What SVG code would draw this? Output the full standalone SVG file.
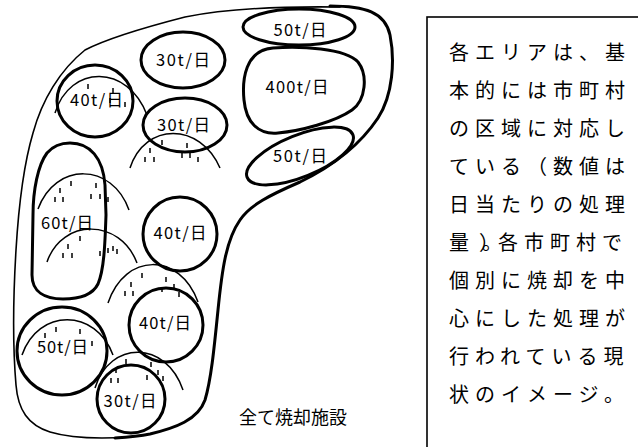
<svg xmlns="http://www.w3.org/2000/svg" width="638" height="447" viewBox="0 0 638 447">
  <style>
    .outline-thin { fill: none; stroke: #000; stroke-width: 1.6; stroke-linecap: round; }
    .outline-thick { fill: none; stroke: #000; stroke-width: 3; stroke-linecap: round; }
    .area { fill: none; stroke: #000; stroke-width: 3; }
    .ridge { fill: none; stroke: #000; stroke-width: 1.5; }
    .tick { fill: none; stroke: #000; stroke-width: 1.5; }
    .lbl { font-family: "Noto Sans CJK JP", "Liberation Sans", sans-serif; font-size: 16.5px; fill: #000; text-anchor: middle; }
    .note { font-family: "Noto Sans CJK JP", sans-serif; font-size: 20px; fill: #000; letter-spacing: 6px; }
    .caption { font-family: "Noto Sans CJK JP", sans-serif; font-size: 18px; fill: #000; }
  </style>

  <!-- outer region boundary -->
  <g id="region">
    <path class="outline-thin" d="M 130,437 C 100,439 70,438 50,432 C 28,425 18,410 16,385 C 13,350 13,300 16,250 C 19,200 25,160 33,133 C 42,100 60,70 85,50 C 110,37 150,26 185,17 C 220,10 270,6 340,7"/>
    <path class="outline-thick" d="M 330,6 C 365,6 385,12 390,35 C 395,60 393,95 378,118 C 362,142 335,165 300,182 C 270,195 250,205 240,220 C 226,240 222,270 218,310 C 214,350 211,380 205,400 C 198,420 175,428 150,434 C 140,436 130,437 115,438"/>
  </g>

  <!-- mountain ridges with rain ticks -->
  <g id="terrain">
    <path class="ridge" d="M 55,113 C 70,64 128,64 147,115"/>
    <path class="ridge" d="M 130,168 C 145,122 200,122 220,168"/>
    <path class="ridge" d="M 38,209 C 55,162 112,162 129,210"/>
    <path class="ridge" d="M 47,262 C 62,218 120,218 137,263"/>
    <path class="ridge" d="M 108,303 C 125,252 180,252 198,302"/>
    <path class="ridge" d="M 22,355 C 38,308 96,308 113,355"/>
    <path class="ridge" d="M 95,388 C 110,340 166,340 183,390"/>
    <path class="tick" d="M88,84v5 M113,88v5 M110,98v5 M125,102v5
      M162,140v5 M187,143v5 M150,148v5 M145,157v5 M154,157v5 M182,153v5 M190,153v5 M198,157v5
      M71,181v5 M96,183v5 M60,188v5 M55,197v5 M63,197v5 M91,194v5 M100,194v5 M108,197v5
      M80,236v5 M68,244v5 M63,253v5 M72,253v5 M100,251v5 M108,248v5 M113,246v5 M117,249v5
      M142,273v5 M131,282v5 M125,291v5 M133,291v5 M166,277v5 M162,287v5 M174,284v5 M179,292v5
      M56,327v5 M80,329v5 M45,333v5 M92,341v5
      M126,359v5 M151,362v5 M116,368v5 M111,378v5 M118,378v5 M147,375v5 M158,370v5 M163,376v5"/>
  </g>

  <!-- processing areas -->
  <g id="area-30-top">
    <ellipse class="area" cx="183" cy="60" rx="42" ry="28"/>
    <text class="lbl" x="183" y="66" textLength="54" lengthAdjust="spacing">30t/日</text>
  </g>
  <g id="area-40-upper">
    <ellipse class="area" cx="95" cy="101" rx="38" ry="36"/>
    <text class="lbl" x="96.5" y="106" textLength="53" lengthAdjust="spacing">40t/日</text>
  </g>
  <g id="area-30-mid">
    <ellipse class="area" cx="185" cy="125" rx="42" ry="27"/>
    <text class="lbl" x="183.5" y="131" textLength="53" lengthAdjust="spacing">30t/日</text>
  </g>
  <g id="area-50-top">
    <ellipse class="area" cx="299" cy="27" rx="56" ry="18"/>
    <text class="lbl" x="300" y="35.5" textLength="53" lengthAdjust="spacing">50t/日</text>
  </g>
  <g id="area-400">
    <path class="area" d="M 273,48 C 300,46 345,48 358,62 C 368,75 366,100 352,110 C 335,122 300,131 278,133 C 258,135 246,122 244,100 C 242,80 245,50 273,48 Z"/>
    <text class="lbl" x="297" y="93" textLength="63" lengthAdjust="spacing">400t/日</text>
  </g>
  <g id="area-50-right">
    <ellipse class="area" cx="300" cy="156" rx="57" ry="21" transform="rotate(-22 300 156)"/>
    <text class="lbl" x="300" y="162" textLength="54" lengthAdjust="spacing">50t/日</text>
  </g>
  <g id="area-60">
    <path class="area" d="M 70,143 C 90,143 103,158 105,185 L 106,215 C 105,245 104,270 98,284 C 92,296 78,299 63,299 C 45,299 32,292 32,275 L 33,215 C 33,190 38,165 47,153 C 53,146 60,143 70,143 Z"/>
    <text class="lbl" x="67" y="229" textLength="52" lengthAdjust="spacing">60t/日</text>
  </g>
  <g id="area-40-mid">
    <circle class="area" cx="180" cy="234" r="37"/>
    <text class="lbl" x="180" y="239" textLength="53" lengthAdjust="spacing">40t/日</text>
  </g>
  <g id="area-40-lower">
    <circle class="area" cx="166" cy="325" r="37"/>
    <text class="lbl" x="165" y="329" textLength="52" lengthAdjust="spacing">40t/日</text>
  </g>
  <g id="area-50-left">
    <ellipse class="area" cx="62" cy="351" rx="45" ry="44"/>
    <text class="lbl" x="62.5" y="353" textLength="51" lengthAdjust="spacing">50t/日</text>
  </g>
  <g id="area-30-bottom">
    <circle class="area" cx="131" cy="399" r="34"/>
    <text class="lbl" x="130" y="407" textLength="53" lengthAdjust="spacing">30t/日</text>
  </g>

  <g id="caption">
    <text class="caption" x="239" y="424">全て焼却施設</text>
  </g>

  <!-- explanatory note -->
  <g id="note">
    <rect x="427" y="17" width="230" height="450" fill="#fff" stroke="#000" stroke-width="1.6"/>
    <text class="note" x="449" y="59.5">各エリアは、基</text>
    <text class="note" x="449" y="97.5">本的には市町村</text>
    <text class="note" x="449" y="135.5">の区域に対応し</text>
    <text class="note" x="449" y="173.5">ている（数値は</text>
    <text class="note" x="449" y="211.5">日当たりの処理</text>
    <text class="note" x="449" y="249.5" dx="0 4 -13 -10">量）。各市町村で</text>
    <text class="note" x="449" y="287.5">個別に焼却を中</text>
    <text class="note" x="449" y="325.5">心にした処理が</text>
    <text class="note" x="449" y="363.5">行われている現</text>
    <text class="note" x="449" y="401.5">状のイメージ。</text>
  </g>
</svg>
